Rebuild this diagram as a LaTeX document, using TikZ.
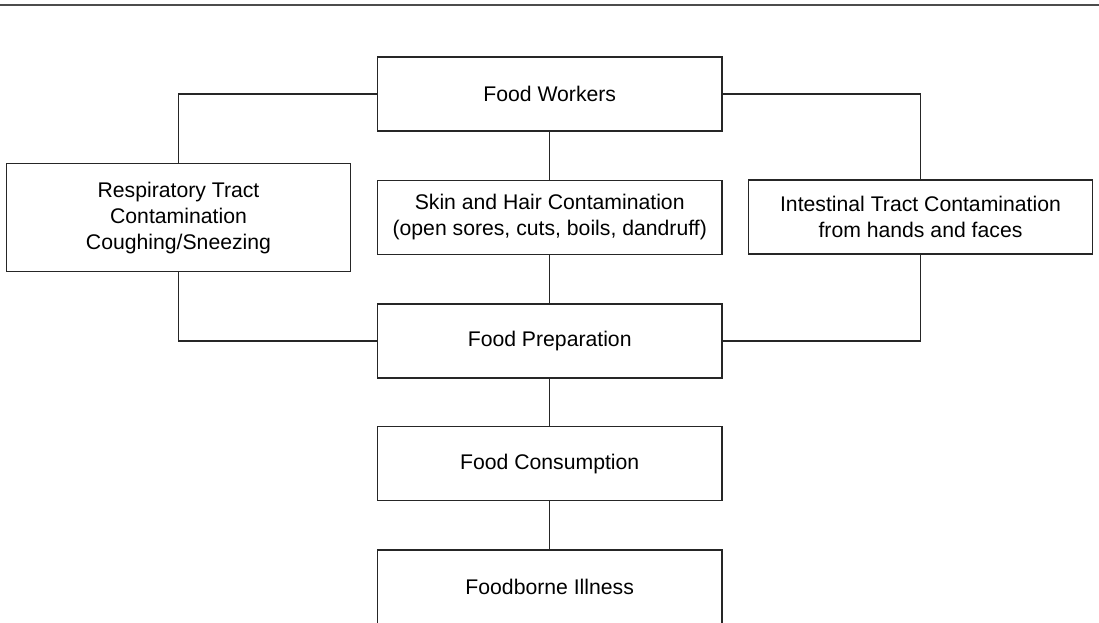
\documentclass[tikz,border=0pt]{standalone}
\usepackage{fontspec}
\setmainfont{Liberation Sans}
\begin{document}
\begin{tikzpicture}[x=0.75pt,y=-0.75pt,
  box/.style={draw=black!85,line width=0.95pt,rectangle,fill=white,align=center,
    minimum width=258.5pt,minimum height=55.5pt,inner sep=0pt,
    font=\fontsize{15.9pt}{19.4pt}\selectfont},
  tallbox/.style={box,minimum height=81pt},
  link/.style={draw=black!85,line width=0.95pt}]
\useasboundingbox (0,0) rectangle (1099,622);
\draw[black!70,line width=1.5pt] (0,4.7) -- (1099,4.7);
\node[box] (fw) at (549.7,94) {Food Workers};
\node[tallbox] (resp) at (178.5,217.7) {Respiratory Tract\\Contamination\\Coughing/Sneezing};
\node[box] (skin) at (549.7,217.3) {Skin and Hair Contamination\\(open sores, cuts, boils, dandruff)};
\node[box] (intes) at (920.5,217) {Intestinal Tract Contamination\\from hands and faces};
\node[box] (prep) at (549.7,341) {Food Preparation};
\node[box] (cons) at (549.7,463.7) {Food Consumption};
\node[box] (ill) at (549.7,587) {Foodborne Illness};
\draw[link] (fw.west) -| (resp.north);
\draw[link] (fw.east) -| (intes.north);
\draw[link] (fw.south) -- (skin.north);
\draw[link] (skin.south) -- (prep.north);
\draw[link] (resp.south) |- (prep.west);
\draw[link] (intes.south) |- (prep.east);
\draw[link] (prep.south) -- (cons.north);
\draw[link] (cons.south) -- (ill.north);
\end{tikzpicture}
\end{document}
